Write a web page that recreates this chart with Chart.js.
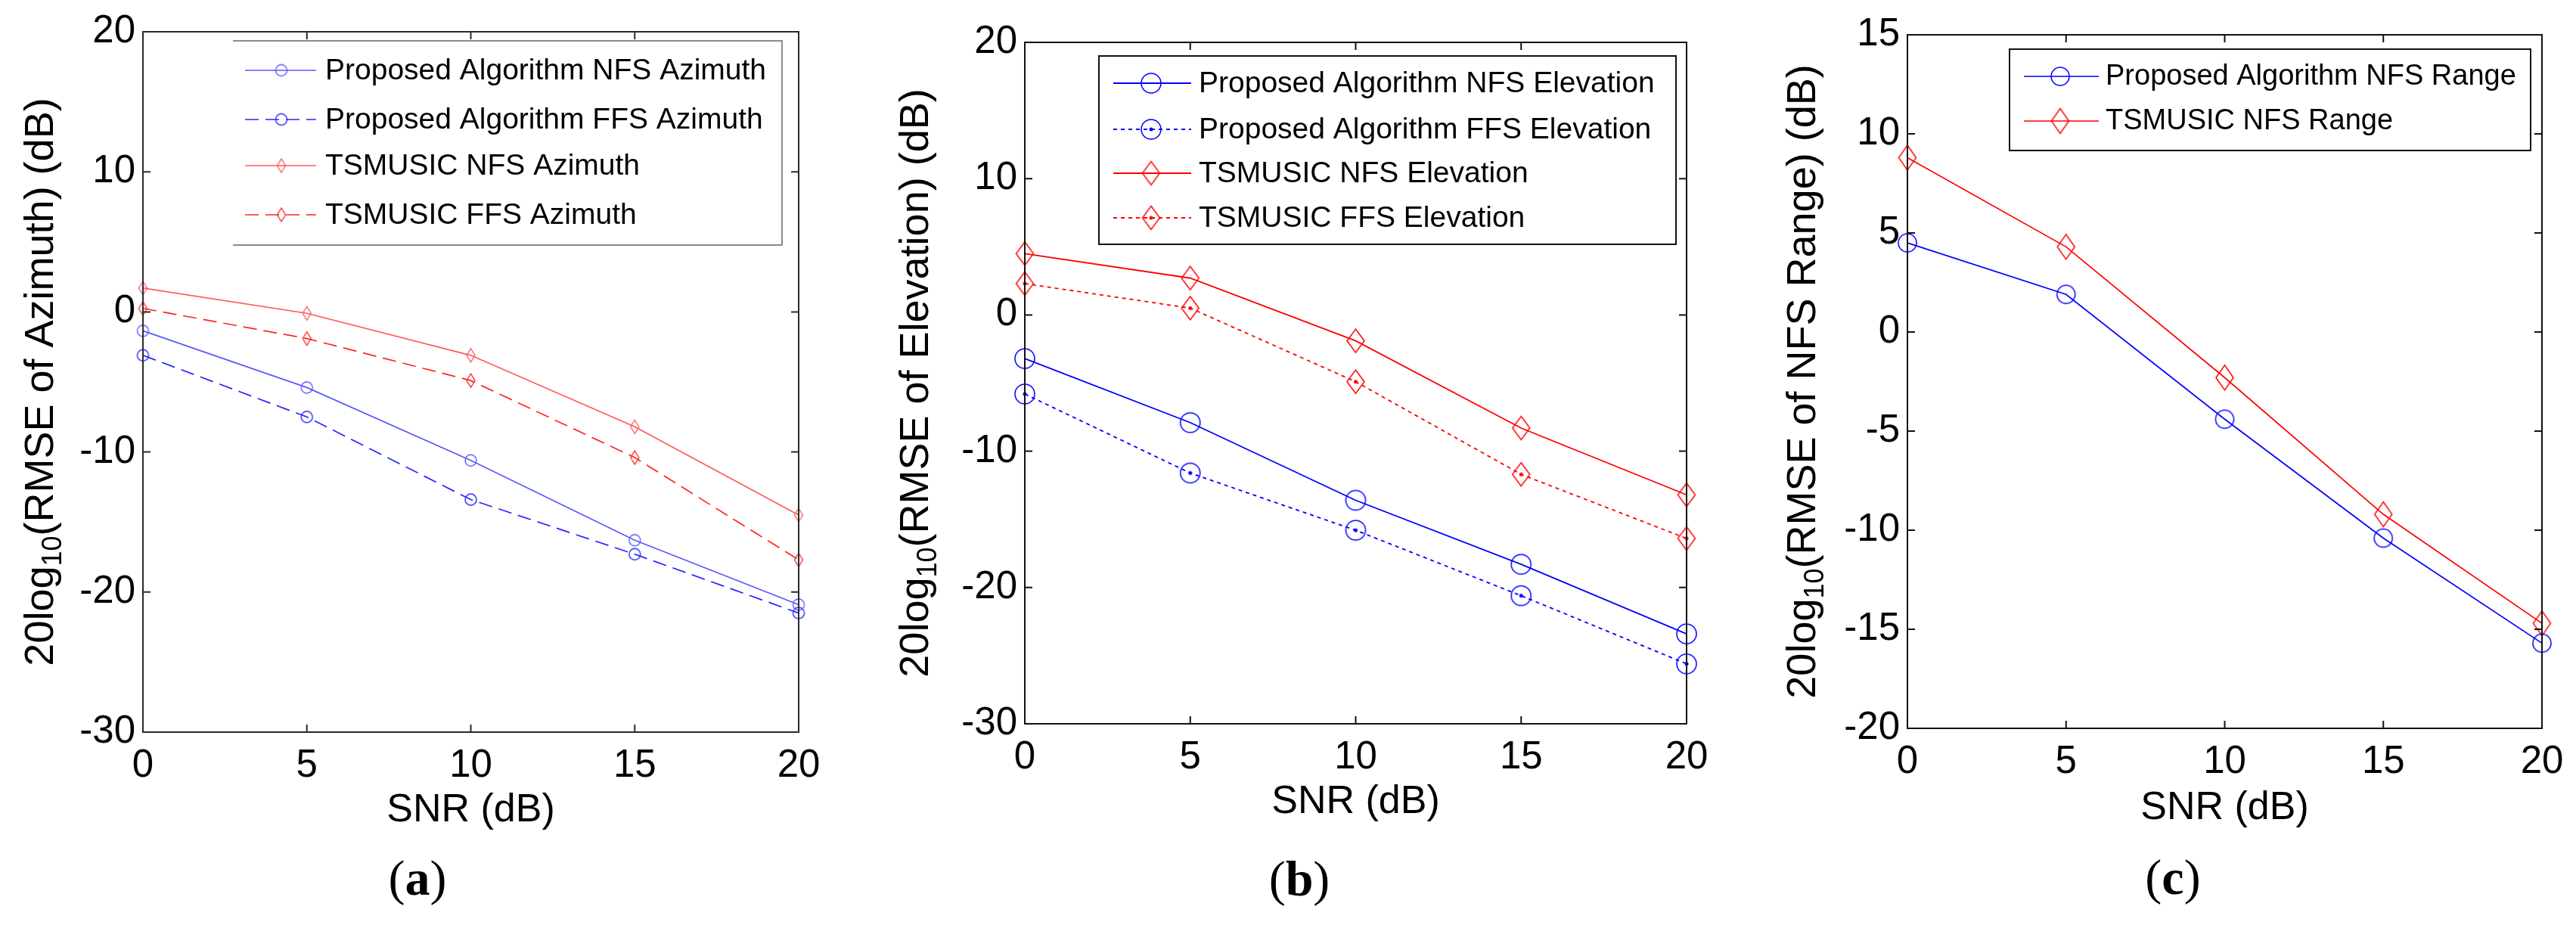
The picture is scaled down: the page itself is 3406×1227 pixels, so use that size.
<!DOCTYPE html>
<html>
<head>
<meta charset="utf-8">
<script src="https://cdn.jsdelivr.net/npm/chart.js@4.4.1/dist/chart.umd.min.js"></script>
<style>
html, body { margin: 0; padding: 0; background: #fff; width: 3406px; height: 1227px; overflow: hidden; }
.panel { position: absolute; top: 0; height: 1227px; }
</style>
</head>
<body>
<div class="panel" style="left:0;width:1136px"><canvas id="chartA"></canvas></div>
<div class="panel" style="left:1136px;width:1136px"><canvas id="chartB"></canvas></div>
<div class="panel" style="left:2272px;width:1134px"><canvas id="chartC"></canvas></div>
<script>
// SNR values on the x axis (dB)
var snr = [0, 5, 10, 15, 20];

// (a) azimuth
var azProNfs = [-1.35, -5.4, -10.6, -16.3, -20.9];
var azProFfs = [-3.1, -7.5, -13.4, -17.3, -21.5];
var azTsNfs = [1.7, -0.1, -3.1, -8.2, -14.5];
var azTsFfs = [0.25, -1.9, -4.9, -10.4, -17.7];

// (b) elevation
var elProNfs = [-3.2, -7.9, -13.6, -18.3, -23.4];
var elProFfs = [-5.8, -11.6, -15.8, -20.6, -25.6];
var elTsNfs = [4.5, 2.7, -1.9, -8.3, -13.2];
var elTsFfs = [2.3, 0.5, -4.9, -11.7, -16.4];

// (c) range
var rgPro = [4.5, 1.9, -4.4, -10.4, -15.7];
var rgTs = [8.8, 4.3, -2.3, -9.2, -14.7];

// axis limits / tick step
var xLimits = [0, 20], xStep = 5;
var azLimits = [-30, 20], elLimits = [-30, 20], rgLimits = [-20, 15];
var azStep = 10, elStep = 10, rgStep = 5;

var SANS = "'Liberation Sans', Arial, sans-serif";
var SERIF = "'Liberation Serif', 'Times New Roman', serif";

function marker(shape, color, w, h, lw, dot) {
  var c = document.createElement('canvas');
  c.width = w + 4; c.height = h + 4;
  var g = c.getContext('2d');
  var cx = c.width / 2, cy = c.height / 2;
  g.strokeStyle = color; g.lineWidth = lw;
  g.beginPath();
  if (shape === 'circle') {
    g.ellipse(cx, cy, w / 2, h / 2, 0, 0, Math.PI * 2);
  } else {
    g.moveTo(cx, cy - h / 2); g.lineTo(cx + w / 2, cy);
    g.lineTo(cx, cy + h / 2); g.lineTo(cx - w / 2, cy); g.closePath();
  }
  g.stroke();
  if (dot) {
    g.fillStyle = color; g.beginPath(); g.arc(cx, cy, dot, 0, Math.PI * 2); g.fill();
  }
  return c;
}

function series(label, values, color, dash, lw, pt) {
  return {
    label: label,
    data: snr.map(function (x, i) { return { x: x, y: values[i] }; }),
    borderColor: color, borderWidth: lw, borderDash: dash,
    pointStyle: pt, pointRadius: 8, showLine: true, fill: false, tension: 0, clip: false
  };
}

function framePlugin(p) {
  return {
    id: 'matlabFrame',
    afterDraw: function (chart) {
      var ctx = chart.ctx, a = chart.chartArea;
      var xs = chart.scales.x, ys = chart.scales.y;
      ctx.save();
      // box + inward ticks
      ctx.strokeStyle = p.axisColor; ctx.lineWidth = 2;
      ctx.beginPath();
      ctx.rect(a.left, a.top, a.right - a.left, a.bottom - a.top);
      xs.ticks.forEach(function (t) {
        var px = xs.getPixelForValue(t.value);
        if (px <= a.left + 1 || px >= a.right - 1) return;
        ctx.moveTo(px, a.bottom); ctx.lineTo(px, a.bottom - 10);
        ctx.moveTo(px, a.top); ctx.lineTo(px, a.top + 10);
      });
      ys.ticks.forEach(function (t) {
        var py = ys.getPixelForValue(t.value);
        if (py <= a.top + 1 || py >= a.bottom - 1) return;
        ctx.moveTo(a.left, py); ctx.lineTo(a.left + 10, py);
        ctx.moveTo(a.right, py); ctx.lineTo(a.right - 10, py);
      });
      ctx.stroke();

      // x title
      ctx.fillStyle = '#000';
      ctx.font = '52px ' + SANS;
      ctx.textAlign = 'center'; ctx.textBaseline = 'middle';
      ctx.fillText('SNR (dB)', (a.left + a.right) / 2, p.xTitleY);

      // y title with subscript
      ctx.save();
      ctx.translate(p.yTitleX, (a.top + a.bottom) / 2);
      ctx.rotate(-Math.PI / 2);
      ctx.textAlign = 'left';
      var big = '54px ' + SANS, small = '36px ' + SANS;
      ctx.font = big; var w1 = ctx.measureText(p.yTitle[0]).width;
      var w3 = ctx.measureText(p.yTitle[2]).width;
      ctx.font = small; var w2 = ctx.measureText(p.yTitle[1]).width;
      var sx = -(w1 + w2 + w3) / 2;
      ctx.font = big; ctx.fillText(p.yTitle[0], sx, 0);
      ctx.font = small; ctx.fillText(p.yTitle[1], sx + w1, 16);
      ctx.font = big; ctx.fillText(p.yTitle[2], sx + w1 + w2, 0);
      ctx.restore();

      // caption (a)/(b)/(c)
      ctx.textBaseline = 'middle'; ctx.textAlign = 'left';
      ctx.font = '66px ' + SERIF; var pw = ctx.measureText('(').width;
      ctx.font = 'bold 66px ' + SERIF; var lw = ctx.measureText(p.caption).width;
      var cx = p.captionX - (2 * pw + lw) / 2;
      ctx.font = '66px ' + SERIF; ctx.fillText('(', cx, p.captionY);
      ctx.font = 'bold 66px ' + SERIF; ctx.fillText(p.caption, cx + pw, p.captionY);
      ctx.font = '66px ' + SERIF; ctx.fillText(')', cx + pw + lw, p.captionY);

      // legend
      var L = p.legend, b = L.box;
      ctx.fillStyle = '#fff';
      ctx.fillRect(b[0], b[1], b[2] - b[0], b[3] - b[1]);
      ctx.strokeStyle = L.border; ctx.lineWidth = 2;
      ctx.beginPath();
      if (L.openLeft) {
        ctx.moveTo(b[0], b[1]); ctx.lineTo(b[2], b[1]); ctx.lineTo(b[2], b[3]); ctx.lineTo(b[0], b[3]);
      } else {
        ctx.rect(b[0], b[1], b[2] - b[0], b[3] - b[1]);
      }
      ctx.stroke();
      chart.data.datasets.forEach(function (ds, i) {
        var y = L.rows[i];
        ctx.strokeStyle = ds.borderColor; ctx.lineWidth = ds.borderWidth;
        ctx.setLineDash(ds.borderDash || []);
        ctx.beginPath(); ctx.moveTo(L.lineX[0], y); ctx.lineTo(L.lineX[1], y); ctx.stroke();
        ctx.setLineDash([]);
        var img = ds.pointStyle;
        ctx.drawImage(img, L.markerX - img.width / 2, y - img.height / 2);
        ctx.fillStyle = '#000'; ctx.font = L.font + 'px ' + SANS;
        ctx.textAlign = 'left'; ctx.textBaseline = 'middle';
        ctx.fillText(ds.label, L.textX, y + 1);
      });
      ctx.restore();
    }
  };
}

function build(id, p) {
  var tickFont = { family: SANS, size: 51 };
  var area = p.area;
  new Chart(document.getElementById(id), {
    type: 'line',
    data: { datasets: p.datasets },
    options: {
      responsive: true, maintainAspectRatio: false, animation: false,
      devicePixelRatio: 1, events: [],
      layout: { padding: { left: 0, top: area[1], right: p.w - area[2], bottom: 1227 - area[3] - 100 } },
      scales: {
        x: {
          type: 'linear', min: xLimits[0], max: xLimits[1],
          afterFit: function (s) { s.height = 100; s.paddingLeft = 0; s.paddingRight = 0; },
          ticks: { stepSize: xStep, color: '#000', padding: 14, font: tickFont, maxRotation: 0 },
          grid: { display: false, drawTicks: false }, border: { display: false }
        },
        y: {
          type: 'linear', min: p.yLim[0], max: p.yLim[1],
          afterFit: function (s) { s.width = area[0]; s.paddingTop = 0; s.paddingBottom = 0; },
          ticks: { stepSize: p.yStep, color: '#000', padding: 10, font: tickFont },
          grid: { display: false, drawTicks: false }, border: { display: false }
        }
      },
      plugins: { legend: { display: false }, tooltip: { enabled: false } }
    },
    plugins: [framePlugin(p)]
  });
}

// (a)
var mA = {
  pc: marker('circle', '#5a5aff', 15, 15, 1.4), fc: marker('circle', '#2525ff', 15, 15, 1.4),
  pd: marker('diamond', '#ff5a5a', 11, 18, 1.4), fd: marker('diamond', '#ff2525', 11, 18, 1.4)
};
build('chartA', {
  w: 1136, area: [189, 42, 1056, 968], yLim: azLimits, yStep: azStep, axisColor: '#2a2a2a',
  datasets: [
    series('Proposed Algorithm NFS Azimuth', azProNfs, '#5a5aff', [], 1.7, mA.pc),
    series('Proposed Algorithm FFS Azimuth', azProFfs, '#2525ff', [18, 9], 1.7, mA.fc),
    series('TSMUSIC NFS Azimuth', azTsNfs, '#ff5a5a', [], 1.7, mA.pd),
    series('TSMUSIC FFS Azimuth', azTsFfs, '#ff2525', [18, 9], 1.7, mA.fd)
  ],
  xTitleY: 1072, yTitleX: 55, yTitle: ['20log', '10', '(RMSE of Azimuth) (dB)'],
  caption: 'a', captionX: 552, captionY: 1166,
  legend: { box: [308, 54, 1034, 324], border: '#8a8a8a', openLeft: true, rows: [93, 158, 219, 284],
            lineX: [324, 418], markerX: 372, textX: 430, font: 39 }
});

// (b)
var mB = {
  pc: marker('circle', '#0000ff', 26, 26, 1.5), fc: marker('circle', '#0000ff', 26, 26, 1.5, 2.5),
  pd: marker('diamond', '#ff0000', 23, 31, 1.5), fd: marker('diamond', '#ff0000', 23, 31, 1.5, 2.5)
};
build('chartB', {
  w: 1136, area: [219, 56, 1094, 957], yLim: elLimits, yStep: elStep, axisColor: '#111',
  datasets: [
    series('Proposed Algorithm NFS Elevation', elProNfs, '#0000ff', [], 1.8, mB.pc),
    series('Proposed Algorithm FFS Elevation', elProFfs, '#0000ff', [5, 5], 1.8, mB.fc),
    series('TSMUSIC NFS Elevation', elTsNfs, '#ff0000', [], 1.8, mB.pd),
    series('TSMUSIC FFS Elevation', elTsFfs, '#ff0000', [5, 5], 1.8, mB.fd)
  ],
  xTitleY: 1061, yTitleX: 76, yTitle: ['20log', '10', '(RMSE of Elevation) (dB)'],
  caption: 'b', captionX: 582, captionY: 1167,
  legend: { box: [317, 74, 1080, 323], border: '#111', openLeft: false, rows: [110, 171, 229, 288],
            lineX: [336, 439], markerX: 386, textX: 449, font: 39 }
});

// (c)
var mC = {
  pc: marker('circle', '#0000ff', 24, 24, 1.5), pd: marker('diamond', '#ff0000', 23, 33, 1.5)
};
build('chartC', {
  w: 1134, area: [250, 46, 1089, 963], yLim: rgLimits, yStep: rgStep, axisColor: '#111',
  datasets: [
    series('Proposed Algorithm NFS Range', rgPro, '#0000ff', [], 1.7, mC.pc),
    series('TSMUSIC NFS Range', rgTs, '#ff0000', [], 1.7, mC.pd)
  ],
  xTitleY: 1069, yTitleX: 113, yTitle: ['20log', '10', '(RMSE of NFS Range) (dB)'],
  caption: 'c', captionX: 601, captionY: 1165,
  legend: { box: [385, 65, 1074, 199], border: '#111', openLeft: false, rows: [101, 160],
            lineX: [404, 503], markerX: 452, textX: 512, font: 38 }
});
</script>
</body>
</html>
